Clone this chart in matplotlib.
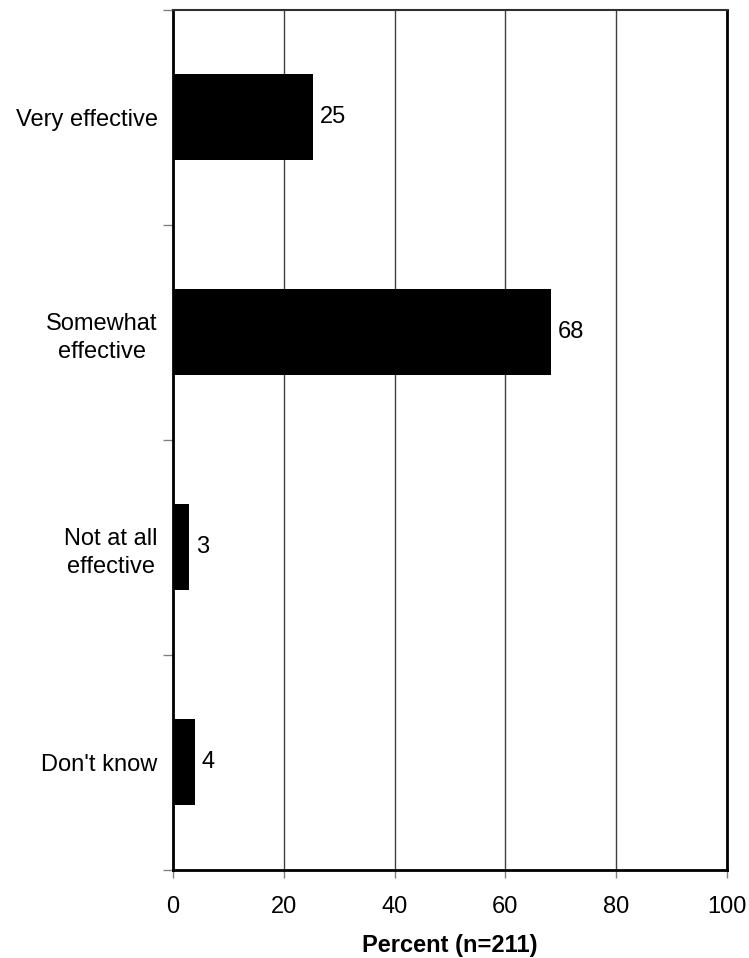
import numpy as np
import matplotlib
matplotlib.use('Agg')
import matplotlib.pyplot as plt

plt.rcParams['font.family'] = ['Liberation Sans', 'DejaVu Sans']

categories = ['Very effective', 'Somewhat\neffective', 'Not at all\neffective', "Don't know"]
values = [25.2, 68.2, 2.9, 3.9]
labels = ['25', '68', '3', '4']
xticks = [0, 20, 40, 60, 80, 100]

fig = plt.figure(figsize=(7.49, 9.58), dpi=100)
ax = fig.add_axes([0.231, 0.0919, 0.7396, 0.8977])

y = np.arange(len(categories))
bars = ax.barh(y, values, height=0.4, color='black', zorder=3)
ax.bar_label(bars, labels=labels, padding=5, fontsize=17)

ax.set_xlim(0, 100)
ax.set_ylim(len(categories) - 0.5, -0.5)
ax.set_xticks(xticks)
ax.tick_params(axis='x', labelsize=17, length=6, width=1, color='#808080', pad=13)
ax.xaxis.grid(True, color='#404040', linewidth=1, zorder=0)

# category boundaries get tick marks, labels sit at the centres
ax.set_yticks(np.arange(len(categories) + 1) - 0.5)
ax.set_yticklabels([])
ax.tick_params(axis='y', which='major', length=7, width=1, color='#808080')
ax.set_yticks(y, minor=True)
ax.set_yticklabels(categories, minor=True, fontsize=17, ha='right',
                   multialignment='center', linespacing=1.35)
ax.tick_params(axis='y', which='minor', length=0, pad=11)

for s in ['left', 'bottom', 'right']:
    ax.spines[s].set_linewidth(2)
ax.spines['top'].set_linewidth(1.5)
ax.spines['top'].set_color('#303030')

ax.set_xlabel('Percent (n=211)', fontsize=17, fontweight='bold', labelpad=11)

fig.savefig('out.png', dpi=100)
